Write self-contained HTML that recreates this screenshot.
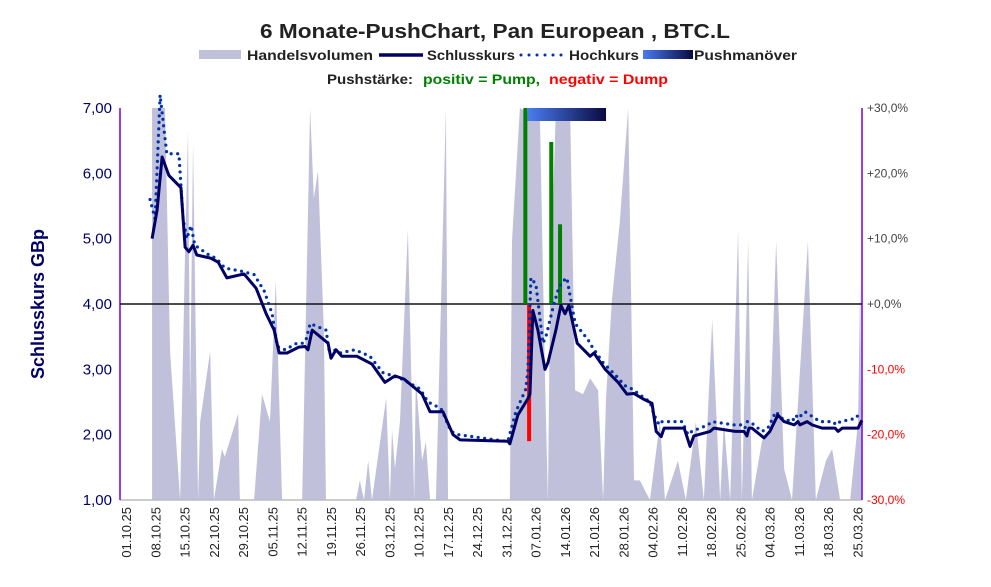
<!DOCTYPE html>
<html><head><meta charset="utf-8"><style>
body{margin:0;background:#fff;font-family:"Liberation Sans",sans-serif}
svg{display:block}
</style></head><body>
<svg id="c" width="991" height="587">
<defs><linearGradient id="pg" x1="0" x2="1"><stop offset="0" stop-color="#4a7cf0"/><stop offset="1" stop-color="#0a0a40"/></linearGradient></defs>
<text x="260" y="38" textLength="470" lengthAdjust="spacingAndGlyphs" font-size="20" font-weight="bold" fill="#222">6 Monate-PushChart, Pan European , BTC.L</text>
<g font-size="14" font-weight="bold" fill="#222">
<rect x="199" y="50" width="42" height="9" fill="#c0c0da"/>
<text x="247" y="60" textLength="126" lengthAdjust="spacingAndGlyphs">Handelsvolumen</text>
<line x1="379" y1="55" x2="423" y2="55" stroke="#000066" stroke-width="3.5"/>
<text x="427" y="60" textLength="88" lengthAdjust="spacingAndGlyphs">Schlusskurs</text>
<line x1="521" y1="55" x2="563" y2="55" stroke="#0033aa" stroke-width="3" stroke-dasharray="0,8" stroke-linecap="round"/>
<text x="569" y="60" textLength="70" lengthAdjust="spacingAndGlyphs">Hochkurs</text>
<rect x="643" y="50" width="50" height="9" fill="url(#pg)"/>
<text x="694" y="60" textLength="103" lengthAdjust="spacingAndGlyphs">Pushmanöver</text>
<text x="327" y="84" textLength="86" lengthAdjust="spacingAndGlyphs">Pushstärke:</text>
<text x="423" y="84" textLength="117" lengthAdjust="spacingAndGlyphs" fill="#008000">positiv = Pump,</text>
<text x="549" y="84" textLength="119" lengthAdjust="spacingAndGlyphs" fill="#ff0000">negativ = Dump</text>
</g>
<g id="plot"></g>
<text transform="translate(44,304) rotate(-90)" text-anchor="middle" font-size="18" font-weight="bold" fill="#000066">Schlusskurs GBp</text>
</svg>
<script>
const closeDays=[6,7.2,8.4,10,12.9,13.9,14.8,15.8,16.7,20.1,21.8,23.9,28,30.9,33.3,35.2,36.4,38.3,41.1,42.6,43.3,44.3,48.1,48.8,50,51.4,55,58.6,61.7,64.1,66.3,70.6,72.5,75.6,78,79.7,91.1,91.6,93.5,95.9,96.4,97.1,98.3,100,100.7,102.6,103.8,104.8,105.7,107.7,110.8,111.7,114.4,117.5,119.6,121.3,123.4,125.6,126.6,127.8,128.5,133.3,134.7,135.6,139.5,140.4,145.5,147.6,148.3,148.8,149.5,152.4,153.8,155.7,157.2,159.6,160.5,161,162.7,163.9,166.3,169.4,170.1,171.1,174.9,175.8];
const closes=[5.0,5.44,6.25,5.97,5.78,4.87,4.8,4.9,4.75,4.7,4.64,4.4,4.46,4.24,3.85,3.6,3.25,3.25,3.34,3.35,3.3,3.6,3.4,3.17,3.3,3.2,3.2,3.08,2.8,2.9,2.85,2.62,2.35,2.35,2.0,1.92,1.9,1.86,2.3,2.55,2.62,3.9,3.6,3.0,3.1,3.6,3.98,3.85,3.98,3.4,3.2,3.25,3.0,2.8,2.62,2.63,2.55,2.48,2.05,1.97,2.1,2.1,1.82,1.98,2.05,2.1,2.05,2.05,1.98,2.1,2.1,1.95,2.05,2.3,2.2,2.15,2.2,2.15,2.2,2.15,2.1,2.1,2.05,2.1,2.1,2.22];
const highs=[5.6,5.3,7.2,6.3,6.3,5.3,5.0,5.2,4.9,4.75,4.7,4.55,4.5,4.45,4.2,3.85,3.35,3.3,3.4,3.4,3.45,3.7,3.6,3.3,3.3,3.25,3.3,3.2,2.95,2.9,2.85,2.7,2.5,2.4,2.05,2.0,1.9,1.9,2.35,2.7,3.0,4.4,4.3,3.4,3.5,4.0,4.25,4.35,4.4,3.7,3.45,3.35,3.1,2.9,2.75,2.7,2.6,2.5,2.3,2.15,2.2,2.2,2.0,2.05,2.15,2.2,2.15,2.15,2.1,2.2,2.2,2.05,2.1,2.35,2.25,2.2,2.3,2.25,2.35,2.3,2.2,2.2,2.15,2.2,2.25,2.35];
const volDays=[6,9.1,10.3,12.7,13.9,14.6,15.1,15.8,16.5,17,17.5,19.9,20.8,22.7,23.4,26.6,27,30.4,32.3,34.2,35.6,37.1,41.9,43.8,44.7,45.7,47.1,47.6,54.8,55.7,56.7,57.7,58.6,62,62.9,63.4,64.1,65.3,67.2,68.7,69.1,70.6,71.5,72.5,73.9,74.4,76.3,76.8,91.6,92.1,94,98.8,100,100.7,101.2,102.6,106,107.2,109.1,110.8,112.7,113.9,114.6,116,117.9,119.9,121.3,122.7,125.1,127.5,128.7,131.8,133.7,136.1,138,140,141.9,142.8,144.3,146.2,147.1,148.6,149.5,151.9,153.8,155.3,157.2,159.1,162.9,164.8,167.2,168.7,170.6,173,174.9,175.4,175.8];
const volumes=[100,100,38,0,64,94,26,91,38,0,20,38,0,13,11,22,0,0,27,20,56,0,0,100,77,84,43,0,0,5,0,10,0,26,0,18,8,20,69,0,31,10,15,0,0,20,100,0,0,66,100,97,31,0,51,100,100,28,27,31,28,0,26,51,71,100,5,5,0,20,0,10,0,20,0,46,0,20,0,69,0,66,0,15,18,66,8,0,66,0,10,13,0,0,20,56,0];
const pushDays=[95.3,96.2,101.5,103.6];
const pushValues=[30,-21,24.8,12.2];
const pushPhase=[95.8,114.6];
const leftTicks=["1,00","2,00","3,00","4,00","5,00","6,00","7,00"];
const rightTicks=["-30,0%","-20,0%","-10,0%","+0,0%","+10,0%","+20,0%","+30,0%"];
const dateLabels=["01.10.25","08.10.25","15.10.25","22.10.25","29.10.25","05.11.25","12.11.25","19.11.25","26.11.25","03.12.25","10.12.25","17.12.25","24.12.25","31.12.25","07.01.26","14.01.26","21.01.26","28.01.26","04.02.26","11.02.26","18.02.26","25.02.26","04.03.26","11.03.26","18.03.26","25.03.26"];

const X0=120,X1=862,Y0=108,Y1=500;
const xs=d=>127+4.18*d;
const ys=v=>Y1-(v-1)*(Y1-Y0)/6;
const yp=p=>304-p*(Y1-Y0)/60;
const yv=v=>Y1-v*(Y1-Y0)/100;
const NS="http://www.w3.org/2000/svg";
const g=document.getElementById('plot');
function mk(t,a){const e=document.createElementNS(NS,t);for(const k in a)e.setAttribute(k,a[k]);g.appendChild(e);return e;}

let vp=`${xs(volDays[0])},${Y1} `+volDays.map((d,i)=>`${xs(d)},${yv(volumes[i])}`).join(' ')+` ${xs(volDays[volDays.length-1])},${Y1}`;
let e=mk('polygon',{points:vp,fill:'#c0c0da'});



e=mk('line',{x1:X0,y1:Y1,x2:X1,y2:Y1,stroke:'#bbb','stroke-width':1.5});


e=mk('line',{x1:X0,y1:Y0,x2:X0,y2:Y1,stroke:'#7700dd','stroke-width':1.5});


e=mk('line',{x1:X1,y1:Y0,x2:X1,y2:Y1,stroke:'#7700dd','stroke-width':1.5});


e=mk('line',{x1:X0,y1:304,x2:X1,y2:304,stroke:'#111','stroke-width':1.5});



pushDays.forEach((d,i)=>{
 const v=pushValues[i];
 const r=mk('rect',{x:xs(d)-2,y:Math.min(yp(v),304),width:4,height:Math.abs(yp(v)-304),fill:v>=0?'#008000':'#ff0000'});
 
 
});
e=mk('rect',{x:xs(pushPhase[0]),y:Y0,width:xs(pushPhase[1])-xs(pushPhase[0]),height:13,fill:'url(#pg)'});



e=mk('polyline',{points:closeDays.map((d,i)=>`${xs(d)-2},${ys(highs[i])}`).join(' '),fill:'none',stroke:'#0033aa','stroke-width':3.2,'stroke-dasharray':'0,6.5','stroke-linecap':'round'});


e=mk('polyline',{points:closeDays.map((d,i)=>`${xs(d)},${ys(closes[i])}`).join(' '),fill:'none',stroke:'#000066','stroke-width':3,'stroke-linejoin':'round'});



leftTicks.forEach((t,i)=>{
 const tx=mk('text',{x:112,y:ys(i+1)+5,'text-anchor':'end','font-size':15,fill:'#000066'});
 tx.textContent=t;
 
 
});
rightTicks.forEach((t,i)=>{
 const tx=mk('text',{x:867,y:yp(-30+i*10)+4,'font-size':12,fill:i<3?'#ff0000':'#444'});
 tx.textContent=t;
 
 
});
dateLabels.forEach((t,i)=>{
 const x=xs(i*7);
 const tx=mk('text',{transform:`translate(${x+4},507) rotate(-90)`,'text-anchor':'end','font-size':13,fill:'#222'});
 tx.textContent=t;
 
 
});
</script>
</body></html>
